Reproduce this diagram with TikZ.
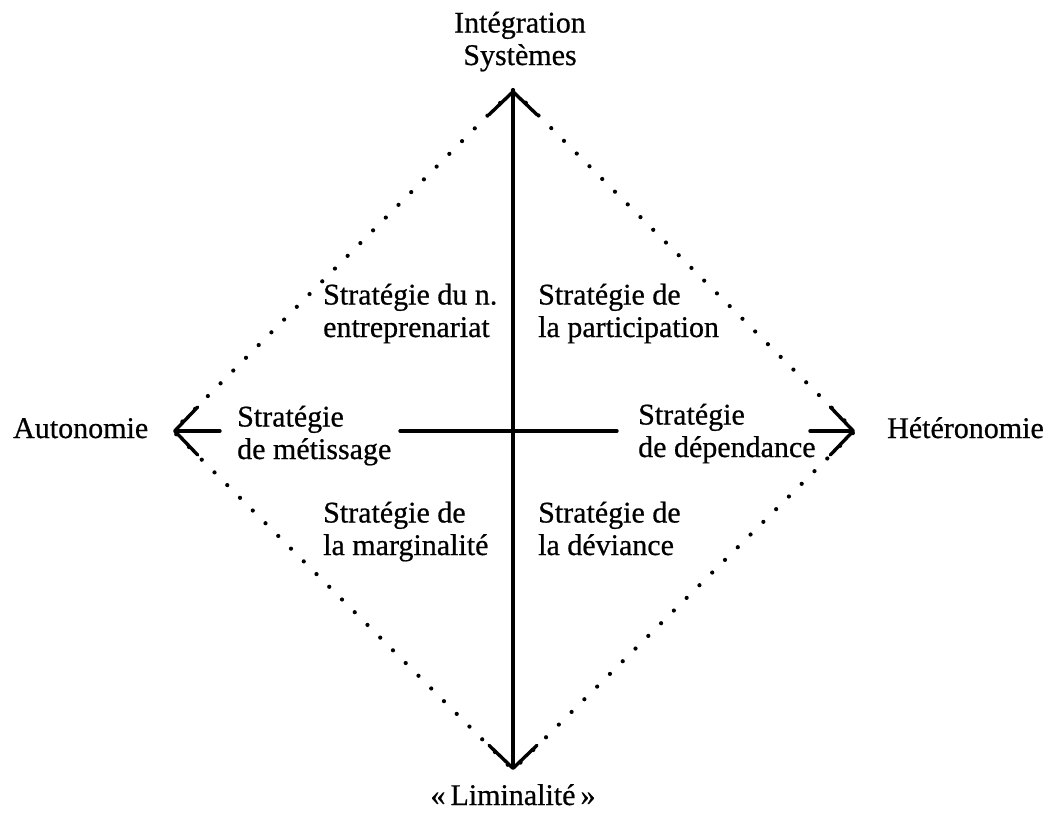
\documentclass[tikz,border=0pt]{standalone}
\usepackage{fontspec}
\setmainfont{Liberation Serif}[FakeBold=0.6]
\usetikzlibrary{arrows.meta}
\begin{document}
\begin{tikzpicture}[x=1pt,y=-1pt,
  axis/.style={line width=3.4pt,line cap=round},
  tipend/.style={-{Straight Barb[length=23pt,width=48pt,line width=3.4pt,line cap=round,line join=round]}},
  dotline/.style={line width=4.2pt,line cap=round,dash pattern=on 0pt off 18pt},
  lbl/.style={inner sep=0pt,font=\fontsize{30}{32.5}\selectfont,align=left},
  lblc/.style={inner sep=0pt,font=\fontsize{30}{32.5}\selectfont,align=center}]
\useasboundingbox (0,0) rectangle (1050,814);
\coordinate (T) at (513,90);
\coordinate (B) at (513,770);
\coordinate (L) at (173,431);
\coordinate (R) at (855,431);
\coordinate (O) at (513,431);
\coordinate (hL) at (220,431);
\coordinate (hM1) at (400,431);
\coordinate (hM2) at (617,431);
\coordinate (hR) at (810,431);
% dotted diamond
\draw[dotline] (T) -- (R) -- (B) -- (L) -- cycle;
% axes
\draw[axis,tipend] (O) -- (T);
\draw[axis,tipend] (O) -- (B);
\draw[axis,tipend] (hL) -- (L);
\draw[axis,tipend] (hR) -- (R);
\draw[axis] (hM1) -- (hM2);
% labels
\node[lblc,anchor=base] (top) at (520,65) {Intégration\\Systèmes};
\node[lblc,anchor=base] (bot) at (513,805) {«\,Liminalité\,»};
\node[lbl,anchor=base west] (aut) at (13,438) {Autonomie};
\node[lbl,anchor=base west] (het) at (887,438) {Hétéronomie};
\node[lbl,anchor=base west] (q1) at (323,337) {Stratégie du n.\\entreprenariat};
\node[lbl,anchor=base west] (q2) at (538,337) {Stratégie de\\la participation};
\node[lbl,anchor=base west] (q3) at (237,459) {Stratégie\\de métissage};
\node[lbl,anchor=base west] (q4) at (638,457) {Stratégie\\de dépendance};
\node[lbl,anchor=base west] (q5) at (323,555) {Stratégie de\\la marginalité};
\node[lbl,anchor=base west] (q6) at (538,555) {Stratégie de\\la déviance};
\end{tikzpicture}
\end{document}
